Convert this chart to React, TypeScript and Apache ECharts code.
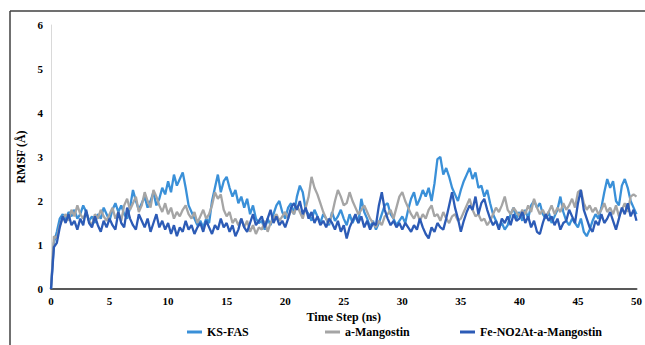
import React, { useEffect, useRef } from "react";
import * as echarts from "echarts";

const timeStep = 0.25;
const xTicks = [0, 5, 10, 15, 20, 25, 30, 35, 40, 45, 50];
const yTicks = [0, 1, 2, 3, 4, 5, 6];

const ksFas = [
  0, 1.05, 1.3, 1.6,
  1.7, 1.55, 1.75, 1.65,
  1.8, 1.6, 1.7, 1.9,
  1.75, 1.55, 1.65, 1.5,
  1.7, 1.6, 1.85, 1.7,
  1.55, 1.8, 1.95, 1.75,
  1.9, 1.7, 1.6, 1.85,
  2.25, 2.0, 1.8, 1.95,
  2.1, 1.85, 2.0, 2.2,
  1.9, 2.05, 2.3, 2.15,
  2.45, 2.2, 2.6, 2.35,
  2.5, 2.65, 2.3, 1.9,
  1.75, 1.6, 1.45, 1.55,
  1.4, 1.6, 1.5, 2.0,
  2.3, 2.6, 2.2, 2.45,
  2.55, 2.3, 2.1, 2.25,
  1.95, 2.1, 1.85, 2.05,
  1.7, 1.9, 1.6, 1.5,
  1.55, 1.35, 1.6, 1.45,
  1.7, 1.9, 2.0, 1.75,
  1.6, 1.85, 1.95, 1.7,
  2.1, 2.35, 2.2, 1.8,
  1.7, 1.55, 1.8, 1.65,
  1.5, 1.7, 1.6, 1.45,
  1.75, 1.55, 1.65, 1.8,
  1.6, 1.45, 1.7, 1.5,
  1.65, 1.5, 2.05, 1.75,
  1.6, 1.4, 1.55, 1.35,
  1.5, 1.7, 1.9, 1.95,
  1.7, 1.6, 1.45, 1.55,
  1.65, 1.5, 1.8, 2.05,
  2.2, 1.9, 2.05, 2.25,
  2.1, 2.3, 2.0, 2.4,
  2.95, 3.0, 2.6, 2.75,
  2.55, 2.3, 2.15, 2.0,
  2.25, 2.45, 2.6, 2.75,
  2.5, 2.65, 2.3, 2.35,
  2.1, 2.25, 1.95, 1.7,
  1.55, 1.4, 1.5, 1.35,
  1.45, 1.7, 1.85, 1.6,
  1.75, 1.55, 1.8, 1.6,
  1.9, 2.0, 1.85, 1.95,
  1.7, 1.6, 1.75, 1.5,
  1.65, 1.8, 2.1, 1.75,
  1.55, 1.45, 1.6, 1.5,
  1.4, 1.6, 1.3, 1.2,
  1.35, 1.55, 1.7, 1.6,
  1.85, 2.2, 2.5, 2.3,
  2.45, 2.0, 1.9, 2.35,
  2.5, 2.3, 2.0, 1.85,
  1.7,
];

const aMangostin = [
  0, 1.2, 1.15, 1.45,
  1.6, 1.7, 1.55, 1.8,
  1.65, 1.9, 1.7, 1.6,
  1.75, 1.55, 1.45, 1.7,
  1.6, 1.8, 1.65, 1.55,
  1.7, 1.85, 1.6, 1.75,
  1.55, 1.9, 2.05, 1.8,
  1.95, 2.1, 1.75, 1.9,
  2.2, 2.0, 1.85, 2.25,
  2.1, 1.9, 1.75, 1.95,
  1.7, 1.85, 1.6, 1.75,
  1.65, 1.8, 1.9, 1.7,
  1.6, 1.75, 1.5, 1.65,
  1.8, 1.6, 1.7, 1.9,
  2.2, 2.05, 2.15, 1.8,
  1.65, 1.75, 1.5, 1.6,
  1.45, 1.6, 1.4, 1.55,
  1.3, 1.45, 1.25, 1.4,
  1.35, 1.55, 1.3, 1.5,
  1.6, 1.7, 1.55, 1.65,
  1.75, 1.6, 1.8, 1.7,
  1.9, 1.75, 1.6, 1.85,
  2.1, 2.55, 2.3, 2.15,
  1.95, 1.75, 1.6, 1.5,
  1.7, 2.0, 2.25, 2.1,
  1.9, 1.95, 2.2, 2.0,
  1.85, 1.7, 1.8, 1.9,
  1.75, 1.6, 1.5, 1.4,
  1.55, 1.45, 1.65, 1.7,
  1.8, 1.6, 1.85, 2.1,
  2.2, 2.0, 1.85, 1.7,
  1.6, 1.75, 1.55, 1.7,
  1.6, 1.8, 1.9, 1.65,
  1.7, 1.55, 1.75, 1.6,
  1.5, 1.65, 1.7, 1.55,
  1.6, 1.75, 1.9, 2.05,
  1.8, 1.65, 1.7, 1.55,
  1.6, 1.45, 1.55, 1.7,
  1.85, 1.75, 1.9, 2.1,
  1.8, 1.7, 1.85, 1.75,
  1.65, 1.8, 1.7, 1.9,
  1.75, 2.05, 1.85, 1.7,
  1.8, 1.65, 1.75, 1.9,
  1.7, 1.85, 1.75, 1.95,
  1.8, 1.9, 2.05, 1.85,
  2.2, 2.25, 1.95, 1.8,
  1.9, 1.75, 1.85, 1.7,
  1.8, 1.95, 1.75, 1.85,
  1.7, 1.9, 1.65, 1.8,
  1.95, 1.75, 2.1, 2.15,
  2.1,
];

const feNO2At = [
  0, 0.95, 1.05, 1.4,
  1.65, 1.5, 1.7, 1.45,
  1.55, 1.35, 1.6, 1.45,
  1.8, 1.5, 1.4, 1.65,
  1.45, 1.3, 1.55, 1.4,
  1.6, 1.45, 1.35, 1.75,
  1.5, 1.4, 1.85, 1.6,
  1.45, 1.35, 1.7, 1.55,
  1.4, 1.6, 1.3, 1.5,
  1.7, 1.4, 1.55, 1.35,
  1.5, 1.25, 1.45, 1.2,
  1.4, 1.3, 1.55, 1.35,
  1.45, 1.25, 1.4, 1.5,
  1.3, 1.55, 1.4, 1.25,
  1.45, 1.35, 1.6, 1.4,
  1.5, 1.3, 1.45, 1.2,
  1.35, 1.6, 1.4, 1.3,
  1.5, 1.7, 1.45, 1.55,
  1.65, 1.4, 1.6, 1.8,
  1.5, 1.65, 1.45, 1.55,
  1.4, 1.6, 1.85, 1.95,
  1.8, 2.0, 1.7, 1.85,
  1.6, 1.75, 1.5, 1.65,
  1.45, 1.55, 1.4, 1.6,
  1.5, 1.35, 1.55, 1.3,
  1.45, 1.15, 1.4, 1.55,
  1.7, 1.5, 1.65, 1.4,
  1.55, 1.35, 1.5, 1.45,
  1.9, 2.2, 1.8, 1.6,
  1.45, 1.55, 1.4, 1.5,
  1.35, 1.5, 1.4, 1.3,
  1.45, 1.35, 1.6, 1.4,
  1.25, 1.15, 1.4, 1.3,
  1.5, 1.4, 1.35, 1.6,
  1.9, 2.2, 1.85, 1.6,
  1.3, 1.55, 1.75, 1.9,
  1.8, 2.1, 1.7, 1.95,
  2.05, 1.8, 1.6, 1.45,
  1.55, 1.35, 1.6, 1.5,
  1.65, 1.45, 1.7, 1.55,
  1.6, 1.75, 1.5, 1.65,
  1.4, 1.55, 1.3, 1.25,
  1.5, 1.7, 1.55, 1.65,
  1.45, 1.6, 1.35, 1.5,
  1.55, 1.8, 1.65, 1.5,
  1.95, 2.25, 1.8, 1.6,
  1.4, 1.3, 1.55, 1.45,
  1.7, 1.5, 1.6, 1.75,
  1.55, 1.35, 1.6, 1.85,
  1.7, 1.95, 1.65, 1.8,
  1.55,
];

const seriesNames = ["KS-FAS", "a-Mangostin", "Fe-NO2At-a-Mangostin"];
const seriesColors = ["#3a90d8", "#a5a5a5", "#2c5bb6"];

const toPairs = (arr: number[]) => arr.map((v, i) => [i * timeStep, v]);

const FONT = "Liberation Serif";

export default function App() {
  const ref = useRef<HTMLDivElement>(null);
  useEffect(() => {
    if (!ref.current) return;
    const chart = echarts.init(ref.current, null, { renderer: "svg" });
    const data = [ksFas, aMangostin, feNO2At];
    const legendLefts = [182, 320, 455];
    chart.setOption({
      animation: false,
      backgroundColor: "#ffffff",
      textStyle: { fontFamily: FONT },
      grid: { left: 51, right: 4, top: 25, bottom: 56, containLabel: false },
      legend: seriesNames.map((n, i) => ({
        data: [n],
        left: legendLefts[i],
        top: 321,
        itemWidth: 15,
        itemHeight: 3,
        itemGap: 5,
        icon: "rect",
        textStyle: { fontFamily: FONT, fontWeight: "bold", fontSize: 12, color: "#000" },
      })),
      xAxis: {
        type: "value",
        min: xTicks[0],
        max: xTicks[xTicks.length - 1],
        interval: 5,
        name: "Time Step (ns)",
        nameLocation: "middle",
        nameGap: 20,
        nameTextStyle: { fontFamily: FONT, fontWeight: "bold", fontSize: 12, color: "#000" },
        axisLine: { show: true, lineStyle: { color: "#595959", width: 2 } },
        axisTick: { show: false },
        splitLine: { show: false },
        axisLabel: { fontFamily: FONT, fontWeight: "bold", fontSize: 11, color: "#000", margin: 6 },
      },
      yAxis: {
        type: "value",
        min: yTicks[0],
        max: yTicks[yTicks.length - 1],
        interval: 1,
        name: "RMSF (Å)",
        nameLocation: "middle",
        nameGap: 22,
        nameRotate: 90,
        nameTextStyle: { fontFamily: FONT, fontWeight: "bold", fontSize: 12, color: "#000" },
        axisLine: { show: true, lineStyle: { color: "#d9d9d9", width: 1 } },
        axisTick: { show: false },
        splitLine: { show: false },
        axisLabel: { fontFamily: FONT, fontWeight: "bold", fontSize: 11, color: "#000", margin: 8 },
      },
      series: seriesNames.map((n, i) => ({
        name: n,
        type: "line",
        data: toPairs(data[i]),
        showSymbol: false,
        symbol: "none",
        color: seriesColors[i],
        lineStyle: { width: 2.3, color: seriesColors[i] },
      })),
      graphic: [
        { type: "line", shape: { x1: 10, y1: 11, x2: 645, y2: 11 }, style: { stroke: "#404040", lineWidth: 1.5 } },
        { type: "line", shape: { x1: 10, y1: 11, x2: 10, y2: 345 }, style: { stroke: "#404040", lineWidth: 1.5 } },
      ],
    });
    return () => chart.dispose();
  }, []);
  return <div ref={ref} style={{ width: 645, height: 345, position: "absolute", left: 0, top: 0 }} />;
}
